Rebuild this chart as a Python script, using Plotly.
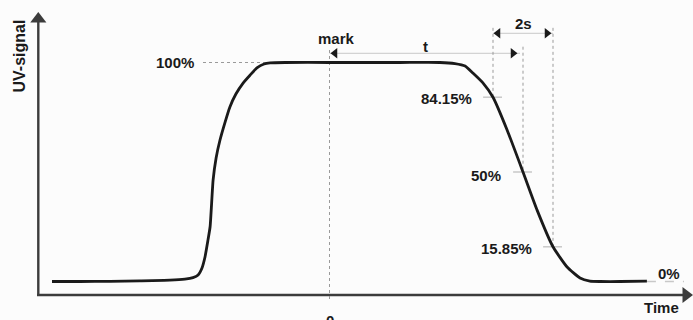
import plotly.graph_objects as go

# ---- data -------------------------------------------------------------
# time relative to the injection mark (units of sigma), UV signal in %
time = [-9.25, -8.32, -7.32, -6.32, -5.32, -4.82, -4.55, -4.38, -4.25, -4.15,
        -4.05, -3.98, -3.88, -3.78, -3.65, -3.48, -3.32, -3.12, -2.88, -2.65,
        -2.42, -2.18, -1.98, -1.48, 0.0, 2.35, 3.68, 4.18, 4.52, 4.78,
        5.12, 5.45, 5.92, 6.45, 6.92, 7.45, 7.92, 8.35, 8.68, 9.02,
        9.68, 10.58]
signal = [0.0, 0.0, 0.1, 0.3, 0.6, 1.1, 1.8, 3.0, 6.2, 11.2,
          19.0, 25.0, 46.3, 56.4, 64.6, 72.8, 79.7, 85.6, 90.6, 94.2,
          97.5, 99.3, 99.8, 100.0, 100.0, 100.0, 100.0, 99.5, 98.4, 95.2,
          90.6, 84.15, 69.2, 50.0, 32.6, 15.85, 6.6, 1.6, 0.2, 0.0,
          0.0, 0.2]

levels = [84.15, 50.0, 15.85]
level_labels = ["84.15%", "50%", "15.85%"]
t_mid = 6.45          # time of the 50 % point on the falling edge
sigma = 1.0           # half of the "2s" window

# ---- figure geometry (pixel <-> data) ---------------------------------
W, H = 693, 320
MARK_PX, PX_PER_T = 329.5, 30.0
ZERO_PX, PX_PER_PCT = 281.5, 2.19


def tx(px):
    return (px - MARK_PX) / PX_PER_T


def sy(py):
    return (ZERO_PX - py) / PX_PER_PCT


def xp(px):
    return px / W


def yp(py):
    return 1 - py / H


INK = "#1a1a1a"
AXIS = "#3c3c3c"
GUIDE = "#9a9a9a"
FAINT = "#c8c8c8"
FONT = dict(family="Liberation Sans, Arial, sans-serif", size=15, color=INK, weight="bold")

T_ROW = sy(53.3)      # level of the "t" dimension line
S_ROW = sy(33.3)      # level of the "2s" dimension line
t_lo, t_hi = t_mid - sigma, t_mid + sigma

fig = go.Figure()

# elution curve
fig.add_trace(go.Scatter(x=time, y=signal, mode="lines",
                         line=dict(color=INK, width=2.8, shape="spline", smoothing=0.5),
                         hoverinfo="skip"))

shapes = []


def seg(x0, y0, x1, y1, color=GUIDE, width=1, dash="dot", ref="data"):
    r = dict(xref="x", yref="y") if ref == "data" else dict(xref="paper", yref="paper")
    shapes.append(dict(type="line", x0=x0, y0=y0, x1=x1, y1=y1, layer="below",
                       line=dict(color=color, width=width, dash=dash), **r))


# axes
seg(xp(38.3), yp(295), xp(38.3), yp(22), color=AXIS, width=2.4, dash="solid", ref="paper")
seg(xp(37), yp(295), xp(684), yp(295), color=AXIS, width=2.4, dash="solid", ref="paper")

# 100 % and 0 % reference lines
seg(tx(203), 100, 0, 100)
seg(time[-1], 0, tx(684), 0, color=FAINT, width=1.5, dash="dash")

# injection mark
seg(0, T_ROW + 1.5, 0, sy(300))

# "t" dimension line and its end guide
seg(0, T_ROW, t_mid - 0.1, T_ROW, color=FAINT, dash="solid")
seg(t_mid, sy(46.7), t_mid, levels[1])

# "2s" window
seg(t_lo, S_ROW + 2.5, t_lo, levels[0])
seg(t_hi, S_ROW + 2.5, t_hi, levels[2])
seg(t_lo, S_ROW, t_hi, S_ROW, color=FAINT, dash="solid")

# short ticks where the curve crosses each level
for lv, tc in zip(levels, [t_lo, t_mid, t_hi]):
    seg(tc - 0.33, lv, tc + 0.3, lv, color=FAINT, width=1.5, dash="solid")

# arrowheads of the dimension lines
fig.add_trace(go.Scatter(
    x=[tx(335), t_mid - 10 / PX_PER_T, t_lo + 5 / PX_PER_T, t_hi - 6 / PX_PER_T],
    y=[T_ROW, T_ROW, S_ROW, S_ROW], mode="markers",
    marker=dict(symbol=["triangle-left", "triangle-right", "triangle-left", "triangle-right"],
                size=9, color=INK, line=dict(width=0)),
    hoverinfo="skip"))

# axis arrowheads
fig.add_trace(go.Scatter(
    x=[tx(38.3), tx(686)], y=[sy(19), sy(295)], mode="markers",
    marker=dict(symbol=["triangle-up", "triangle-right"], size=14, color=AXIS,
                line=dict(width=0)),
    hoverinfo="skip"))

ann = []


def label(text, px, py, xanchor="center", angle=0, size=15):
    f = dict(FONT)
    f["size"] = size
    ann.append(dict(text=text, x=xp(px), y=yp(py), xref="paper", yref="paper",
                    xanchor=xanchor, yanchor="middle", showarrow=False,
                    textangle=angle, font=f))


label("UV-signal", 18.5, 56, angle=-90, size=16)
label("100%", 196, 62.5, xanchor="right")
label("mark", 336, 39)
label("t", 425.5, 46)
label("2s", 523, 23)
for txt, cx, cy in zip(level_labels, [446.7, 486, 506], [98, 175, 248]):
    label(txt, cx, cy)
label("0%", 669, 273)
label("Time", 661, 307)
label("0", 329.5, 320)

fig.update_layout(
    width=W, height=H, margin=dict(l=0, r=0, t=0, b=0),
    paper_bgcolor="#fcfcfc", plot_bgcolor="#fcfcfc",
    showlegend=False, shapes=shapes, annotations=ann,
    xaxis=dict(range=[tx(0), tx(W)], visible=False, fixedrange=True),
    yaxis=dict(range=[sy(H), sy(0)], visible=False, fixedrange=True),
)

fig.write_html("out.html")
